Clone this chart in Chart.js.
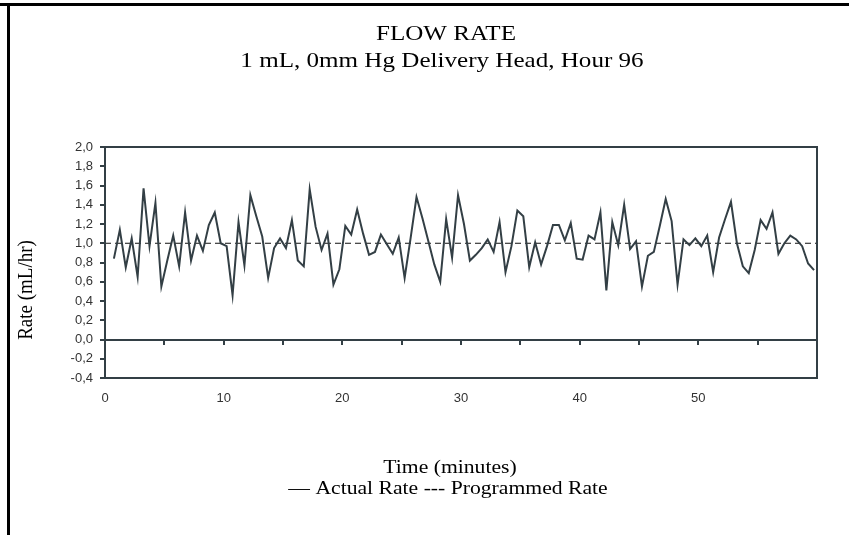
<!DOCTYPE html>
<html>
<head>
<meta charset="utf-8">
<script src="https://cdn.jsdelivr.net/npm/chart.js@4"></script>
<style>
  body { margin: 0; background: #fff; }
  canvas { display: block; }
</style>
</head>
<body>
<canvas id="flowChart" width="849" height="535"></canvas>
<script>
// Actual rate, sampled every half minute (mL/hr)
const actualRate = [
  0.84, 1.14, 0.75, 1.05, 0.65, 1.57, 0.97, 1.42, 0.55, 0.82,
  1.08, 0.76, 1.32, 0.82, 1.08, 0.92, 1.19, 1.32, 1.00, 0.97,
  0.46, 1.22, 0.77, 1.50, 1.28, 1.07, 0.64, 0.95, 1.05, 0.95,
  1.24, 0.82, 0.76, 1.56, 1.17, 0.93, 1.10, 0.57, 0.73, 1.18,
  1.09, 1.35, 1.10, 0.88, 0.91, 1.09, 0.99, 0.89, 1.06, 0.64,
  1.05, 1.48, 1.26, 1.02, 0.78, 0.60, 1.25, 0.85, 1.50, 1.20,
  0.82, 0.88, 0.95, 1.04, 0.91, 1.22, 0.70, 0.97, 1.34, 1.28,
  0.75, 1.01, 0.78, 0.97, 1.19, 1.19, 1.03, 1.21, 0.84, 0.83,
  1.08, 1.04, 1.32, 0.51, 1.22, 0.98, 1.40, 0.94, 1.02, 0.55,
  0.87, 0.91, 1.18, 1.46, 1.23, 0.57, 1.04, 0.98, 1.05, 0.97,
  1.08, 0.70, 1.06, 1.25, 1.43, 1.00, 0.76, 0.69, 0.93, 1.24,
  1.15, 1.32, 0.89, 1.00, 1.08, 1.04, 0.97, 0.79, 0.72
];
const firstSample = 0.75;   // minutes
const sampleStep = 0.5;     // minutes
const actualTimes = actualRate.map((_, i) => firstSample + i * sampleStep);

const programmedTimes = [0, 60];
const programmedRate = [1.0, 1.0];

const xTickLabels = [0, 10, 20, 30, 40, 50];

const axisColor = '#333f45';
const serif = '"Liberation Serif", "Times New Roman", serif';
const sans = '"Liberation Sans", Arial, sans-serif';
const stretch = 1.14; // the original text is a bit wide

function wideText(ctx, text, x, y) {
  ctx.save();
  ctx.translate(x, y);
  ctx.scale(stretch, 1);
  ctx.fillText(text, 0, 0);
  ctx.restore();
}

const decor = {
  id: 'decor',
  afterDraw(chart) {
    const ctx = chart.ctx;
    const area = chart.chartArea;
    const x = chart.scales.x;
    const y = chart.scales.y;
    ctx.save();

    // page frame
    ctx.fillStyle = '#000';
    ctx.fillRect(0, 3, 849, 3);
    ctx.fillRect(7, 3, 3, 532);

    // plot box
    ctx.strokeStyle = axisColor;
    ctx.lineWidth = 2;
    ctx.strokeRect(area.left, area.top, area.right - area.left, area.bottom - area.top);

    // zero line with ticks
    const y0 = Math.round(y.getPixelForValue(0));
    ctx.beginPath();
    ctx.moveTo(area.left, y0);
    ctx.lineTo(area.right, y0);
    for (let t = 5; t < 60; t += 5) {
      const px = Math.round(x.getPixelForValue(t));
      ctx.moveTo(px, y0);
      ctx.lineTo(px, y0 + 5);
    }
    ctx.stroke();

    // texts
    ctx.fillStyle = '#000';
    ctx.textAlign = 'center';
    ctx.textBaseline = 'alphabetic';
    ctx.font = '22px ' + serif;
    wideText(ctx, 'FLOW RATE', 446, 40);
    wideText(ctx, '1 mL, 0mm Hg Delivery Head, Hour 96', 442, 67);

    ctx.textBaseline = 'middle';
    ctx.font = '19px ' + serif;
    wideText(ctx, 'Time (minutes)', 450, 468);
    wideText(ctx, '\u2014 Actual Rate --- Programmed Rate', 448, 489);

    ctx.translate(26, 290);
    ctx.rotate(-Math.PI / 2);
    ctx.scale(1, stretch);
    ctx.fillText('Rate (mL/hr)', 0, 0);
    ctx.restore();
  }
};

new Chart(document.getElementById('flowChart'), {
  type: 'line',
  data: {
    datasets: [
      {
        label: 'Actual Rate',
        data: actualTimes.map((t, i) => ({ x: t, y: actualRate[i] })),
        borderColor: axisColor,
        borderWidth: 2,
        pointRadius: 0,
        tension: 0
      },
      {
        label: 'Programmed Rate',
        data: programmedTimes.map((t, i) => ({ x: t, y: programmedRate[i] })),
        borderColor: '#111',
        borderWidth: 1,
        borderDash: [6, 4],
        pointRadius: 0
      }
    ]
  },
  options: {
    responsive: false,
    animation: false,
    devicePixelRatio: 1,
    layout: { padding: { top: 147, right: 32, bottom: 0, left: 0 } },
    plugins: {
      legend: { display: false },
      title: { display: false },
      tooltip: { enabled: false }
    },
    scales: {
      x: {
        type: 'linear',
        min: 0,
        max: 60,
        afterFit: s => { s.height = 157; },
        afterBuildTicks: s => { s.ticks = xTickLabels.map(v => ({ value: v })); },
        grid: { display: true, drawOnChartArea: false, drawTicks: false, color: 'rgba(0,0,0,0)' },
        border: { display: false },
        ticks: {
          padding: 13,
          maxRotation: 0,
          color: '#333',
          font: { family: sans, size: 13 }
        }
      },
      y: {
        min: -0.4,
        max: 2.0,
        afterFit: s => { s.width = 105; },
        grid: { drawOnChartArea: false, tickLength: 5, color: axisColor, lineWidth: 2 },
        border: { display: false },
        ticks: {
          stepSize: 0.2,
          padding: 7,
          color: '#333',
          font: { family: sans, size: 13 },
          callback: v => (Math.abs(v) < 1e-9 ? 0 : v).toFixed(1).replace('.', ',')
        }
      }
    }
  },
  plugins: [decor]
});
</script>
</body>
</html>
